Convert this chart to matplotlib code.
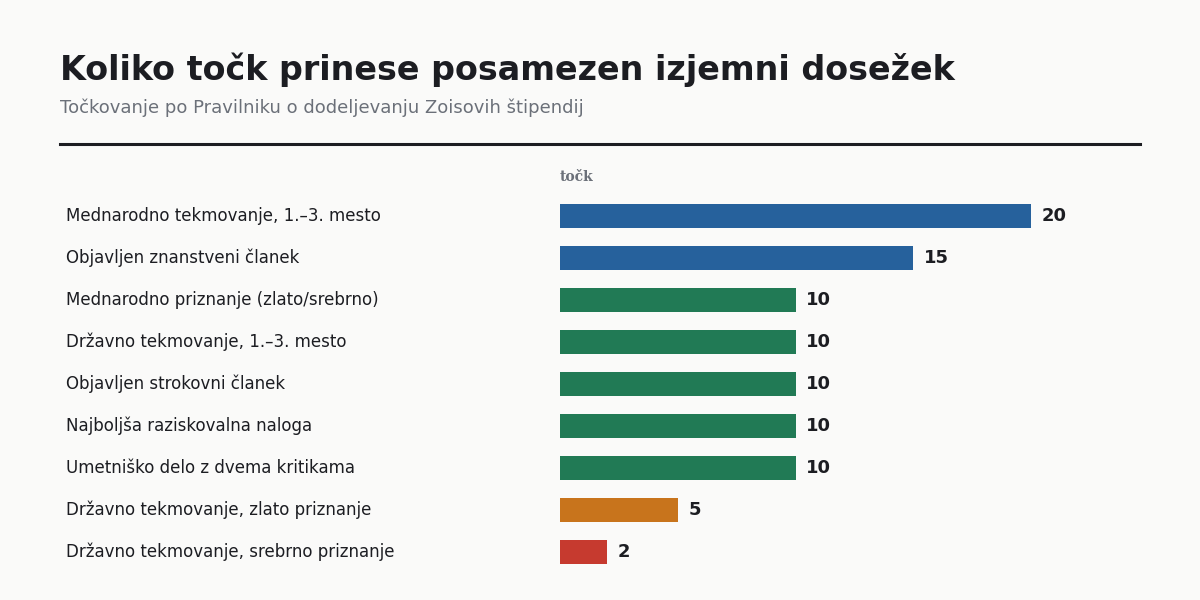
import matplotlib
matplotlib.use('Agg')
import matplotlib.pyplot as plt
from matplotlib.lines import Line2D

labels = [
    'Mednarodno tekmovanje, 1.–3. mesto',
    'Objavljen znanstveni članek',
    'Mednarodno priznanje (zlato/srebrno)',
    'Državno tekmovanje, 1.–3. mesto',
    'Objavljen strokovni članek',
    'Najboljša raziskovalna naloga',
    'Umetniško delo z dvema kritikama',
    'Državno tekmovanje, zlato priznanje',
    'Državno tekmovanje, srebrno priznanje',
]
points = [20, 15, 10, 10, 10, 10, 10, 5, 2]
colors = ['#26619c', '#26619c', '#217a55', '#217a55', '#217a55',
          '#217a55', '#217a55', '#c8741c', '#c63a2f']

bg = '#fafaf9'
dark = '#1c1d22'
gray = '#6b7079'

fig = plt.figure(figsize=(12, 6), dpi=100, facecolor=bg)
ax = fig.add_axes([560 / 1200, 1 - 573 / 600, 471 / 1200, 378 / 600])
ax.set_facecolor(bg)

y = list(range(len(points)))
ax.barh(y, points, height=0.55, color=colors)
ax.set_xlim(0, 20)
ax.set_ylim(len(points) - 0.5, -0.5)
ax.axis('off')

for yi, v, lab in zip(y, points, labels):
    ax.text(v + 0.45, yi, str(v), va='center', ha='left', fontsize=13,
            fontweight='bold', color=dark)
    ax.text(66 / 1200, yi, lab, transform=ax.get_yaxis_transform().__class__(fig.transFigure, ax.transData),
            va='center', ha='left', fontsize=12, color=dark)

fig.text(60 / 1200, 1 - 70 / 600, 'Koliko točk prinese posamezen izjemni dosežek',
         fontsize=24, fontweight='bold', color=dark, va='center', ha='left')
fig.text(60 / 1200, 1 - 108 / 600, 'Točkovanje po Pravilniku o dodeljevanju Zoisovih štipendij',
         fontsize=13, color=gray, va='center', ha='left')
fig.add_artist(Line2D([60 / 1200, 1140 / 1200], [1 - 144 / 600] * 2,
                      transform=fig.transFigure, color=dark, linewidth=2.2))
fig.text(560 / 1200, 1 - 177 / 600, 'točk', fontsize=10, fontweight='bold',
         family='DejaVu Serif', color=gray, va='center', ha='left')

fig.savefig('out.png', dpi=100, facecolor=bg)
